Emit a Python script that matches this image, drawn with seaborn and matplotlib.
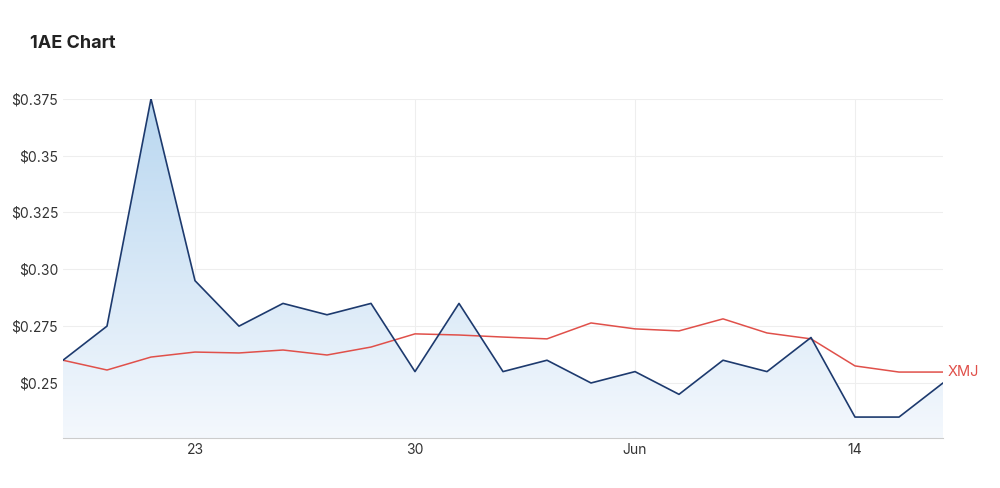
import numpy as np
import pandas as pd
import matplotlib.pyplot as plt
import seaborn as sns

sns.set_style("white")
plt.rcParams['font.family'] = ['Inter', 'DejaVu Sans']

# trading-day index, tick labels
tick_pos = [3, 8, 13, 18]
tick_labels = ['23', '30', 'Jun', '14']
price_1ae = [0.26, 0.275, 0.375, 0.295, 0.275, 0.285, 0.28, 0.285, 0.255, 0.285,
             0.255, 0.26, 0.25, 0.255, 0.245, 0.26, 0.255, 0.27, 0.235, 0.235, 0.25]
xmj = [0.26, 0.2557, 0.2614, 0.2636, 0.2632, 0.2645, 0.2623, 0.2658, 0.2716, 0.2711,
       0.2702, 0.2694, 0.2764, 0.2738, 0.2729, 0.2782, 0.272, 0.2694, 0.2575, 0.2548, 0.2548]
y_ticks = [0.25, 0.275, 0.30, 0.325, 0.35, 0.375]
y_labels = ['$0.25', '$0.275', '$0.30', '$0.325', '$0.35', '$0.375']

df = pd.DataFrame({'day': np.arange(len(price_1ae)), '1AE': price_1ae, 'XMJ': xmj})

fig = plt.figure(figsize=(10, 4.88), dpi=100)
ax = fig.add_axes([0.063, 0.1025, 0.88, 0.695])
ymin, ymax = 0.2258, 0.375

# gradient fill under the 1AE line
grad = np.linspace(0, 1, 256).reshape(-1, 1)
cmap = plt.matplotlib.colors.LinearSegmentedColormap.from_list('g', ['#f4f8fd', '#b9d7f0'])
im = ax.imshow(grad, extent=[0, len(df) - 1, ymin, ymax], origin='lower',
               aspect='auto', cmap=cmap, zorder=1)
poly = ax.fill_between(df['day'], df['1AE'], ymin, color='none')
im.set_clip_path(poly.get_paths()[0], transform=ax.transData)

sns.lineplot(data=df, x='day', y='XMJ', ax=ax, color='#e0504a', linewidth=1.1, zorder=3)
sns.lineplot(data=df, x='day', y='1AE', ax=ax, color='#1d3a6e', linewidth=1.2, zorder=4)

ax.set_xlim(0, len(df) - 1)
ax.set_ylim(ymin, ymax)
ax.set_xticks(tick_pos)
ax.set_xticklabels(tick_labels)
ax.set_yticks(y_ticks)
ax.set_yticklabels(y_labels)
ax.set_xlabel('')
ax.set_ylabel('')
ax.tick_params(axis='both', labelsize=10, colors='#333333', length=0)
ax.grid(True, color='#eeeeee', linewidth=0.8)
for s in ['top', 'right', 'left']:
    ax.spines[s].set_visible(False)
ax.spines['bottom'].set_color('#cccccc')
ax.text(len(df) - 1 + 0.1, xmj[-1], 'XMJ', color='#e0504a', fontsize=10.5, va='center')

fig.text(0.03, 0.91, '1AE Chart', fontsize=13, fontweight='bold', color='#222222', va='center')
fig.savefig('out.png', dpi=100)
